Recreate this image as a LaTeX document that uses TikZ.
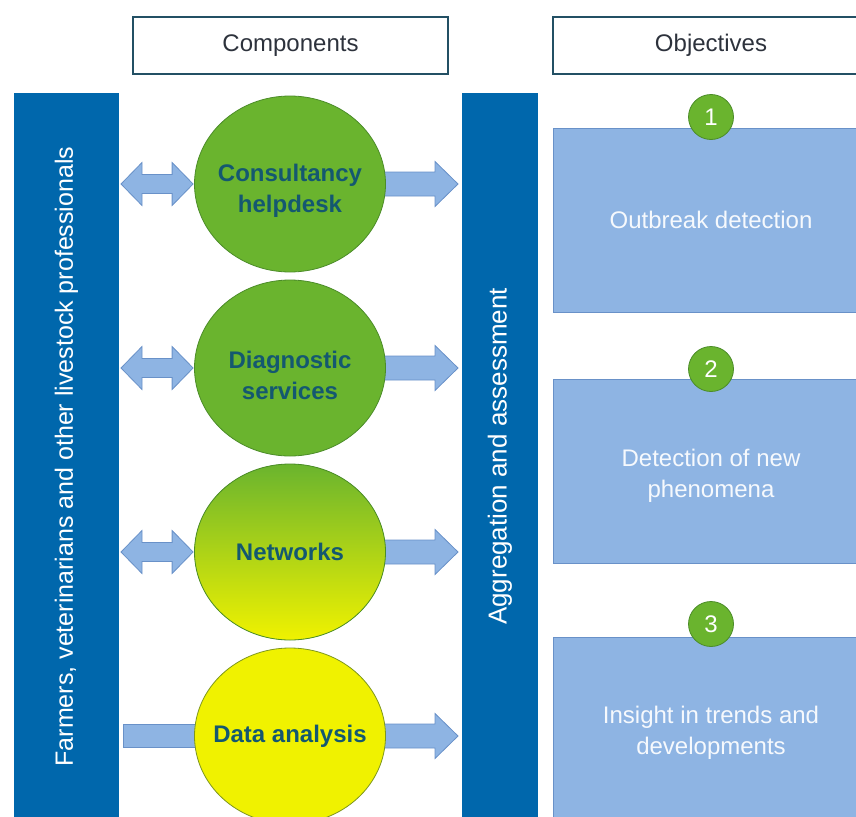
\documentclass[tikz,border=0pt]{standalone}
\usepackage{fontspec}
\setmainfont{Liberation Sans}
\usetikzlibrary{shapes.geometric,calc,backgrounds}
\definecolor{barblue}{RGB}{0,103,172}
\definecolor{paleblue}{RGB}{142,180,227}
\definecolor{paleedge}{RGB}{105,145,200}
\definecolor{leafgreen}{RGB}{106,180,46}
\definecolor{leafedge}{RGB}{75,140,40}
\definecolor{lemon}{RGB}{240,242,0}
\definecolor{lemonedge}{RGB}{125,150,30}
\definecolor{inkteal}{RGB}{20,88,112}
\definecolor{headedge}{RGB}{35,80,100}
\definecolor{headink}{RGB}{45,50,60}

\begin{document}
\begin{tikzpicture}[x=1pt, y=-1pt,
    head/.style={draw=headedge, line width=1.3pt, minimum width=315pt, minimum height=57pt,
        text=headink, font=\fontsize{24}{29}\selectfont},
    bar/.style={fill=barblue, inner sep=0pt, outer sep=0pt, minimum height=727pt},
    bartext/.style={rotate=90, text=white, font=\fontsize{25}{30}\selectfont},
    comp/.style={ellipse, draw=leafedge, line width=0.8pt, fill=leafgreen,
        minimum width=191pt, minimum height=176pt, inner sep=0pt},
    comptext/.style={text=inkteal, align=center, font=\bfseries\fontsize{24}{31}\selectfont},
    objbox/.style={fill=paleblue, draw=paleedge, line width=0.8pt, minimum width=316pt,
        minimum height=184pt},
    objtext/.style={text=white!92!paleblue, align=center, font=\fontsize{24}{31}\selectfont},
    numdot/.style={circle, fill=leafgreen, draw=leafedge, line width=0.8pt, minimum size=45pt,
        inner sep=0pt, text=white, font=\fontsize{24}{28}\selectfont},
    blockarrow/.style={fill=paleblue, draw=paleedge, line width=0.8pt}]
    \useasboundingbox (0,0) rectangle (856,816);

    % column headers
    \node[head] (comphead) at (290.5,45.5) {Components};
    \node[head, minimum width=316pt] (objhead) at (711,45.5) {Objectives};

    % side bars
    \node[bar, minimum width=105pt] (farmers) at (66.5,456.5) {};
    \node[bartext] (farmerslbl) at (farmers) {Farmers, veterinarians and other livestock professionals};
    \node[bar, minimum width=76pt] (agg) at (500,456.5) {};
    \node[bartext, font=\fontsize{26}{30}\selectfont] (agglbl) at (agg) {Aggregation and assessment};

    % components
    \node[comp] (c1) at (290,184) {};
    \node[comptext, yshift=-7pt] (c1lbl) at (c1) {Consultancy\\helpdesk};
    \node[comp] (c2) at (290,368) {};
    \node[comptext, yshift=-7pt] (c2lbl) at (c2) {Diagnostic\\services};
    \node[comp, top color=leafgreen, bottom color=lemon] (c3) at (290,552) {};
    \node[comptext] (c3lbl) at (c3) {Networks};
    \node[comp, fill=lemon, draw=lemonedge] (c4) at (290,736) {};
    \node[comptext] (c4lbl) at (c4) {Data analysis};

    % arrows between bars and components
    \begin{scope}[on background layer]
        \foreach \c in {c1,c2,c3}
            \draw[blockarrow] let \p1=(farmers.east |- \c), \p2=(\c.west) in
                (\x1+2pt,\y1) -- (\x1+23pt,\y1+21.5pt) -- (\x1+23pt,\y1+9.5pt)
                -- (\x2-22pt,\y1+9.5pt) -- (\x2-22pt,\y1+21.5pt) -- (\x2-1pt,\y1)
                -- (\x2-22pt,\y1-21.5pt) -- (\x2-22pt,\y1-9.5pt)
                -- (\x1+23pt,\y1-9.5pt) -- (\x1+23pt,\y1-21.5pt) -- cycle;
        \draw[blockarrow] let \p1=(farmers.east |- c4), \p2=(c4.center) in
            (\x1+4pt,\y1-11.5pt) rectangle (\x2,\y1+11.5pt);
        \foreach \c in {c1,c2,c3,c4}
            \draw[blockarrow] let \p1=(\c.east), \p2=(agg.west |- \c) in
                (\x1-6pt,\y1+12pt) -- (\x2-27pt,\y1+12pt) -- (\x2-27pt,\y1+22.5pt)
                -- (\x2-4pt,\y1) -- (\x2-27pt,\y1-22.5pt) -- (\x2-27pt,\y1-12pt)
                -- (\x1-6pt,\y1-12pt) -- cycle;
    \end{scope}

    % objectives
    \node[objbox] (obj1) at (711,220) {};
    \node[objtext] (obj1lbl) at (obj1) {Outbreak detection};
    \node[objbox] (obj2) at (711,471.5) {};
    \node[objtext, yshift=-4pt] (obj2lbl) at (obj2) {Detection of new\\phenomena};
    \node[objbox] (obj3) at (711,729) {};
    \node[objtext, yshift=-4pt] (obj3lbl) at (obj3) {Insight in trends and\\developments};
    \node[numdot] (n1) at (711,117) {1};
    \node[numdot] (n2) at (711,369) {2};
    \node[numdot] (n3) at (711,624) {3};
\end{tikzpicture}
\end{document}
